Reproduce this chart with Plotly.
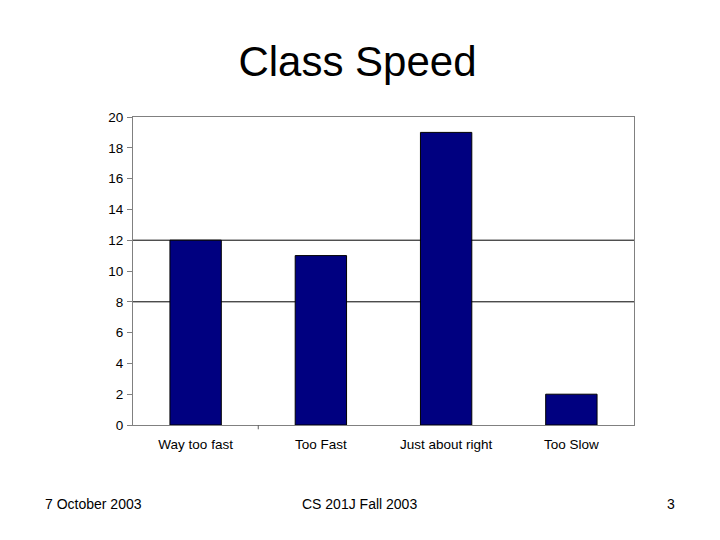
import plotly.graph_objects as go

# survey answers
categories = ["Way too fast", "Too Fast", "Just about right", "Too Slow"]
counts = [12, 11, 19, 2]
grid_levels = [8, 12]
y_ticks = [0, 2, 4, 6, 8, 10, 12, 14, 16, 18, 20]

fig = go.Figure()
fig.add_trace(go.Bar(x=categories, y=counts,
                     marker=dict(color="#000080", line=dict(color="#000000", width=1)),
                     width=0.41))

# only two horizontal grid lines in the original
for g in grid_levels:
    fig.add_shape(type="line", xref="paper", yref="y", x0=0, x1=1, y0=g, y1=g,
                  line=dict(color="black", width=1), layer="below")

# lone x tick between first and second category
fig.add_shape(type="line", xref="x", yref="paper", x0=0.5, x1=0.5, y0=0, y1=-0.014,
              line=dict(color="#606060", width=1))

fig.update_layout(
    width=720, height=540,
    margin=dict(l=125, r=94, t=109, b=123),
    paper_bgcolor="white", plot_bgcolor="white",
    showlegend=False,
    font=dict(family="Liberation Sans, Arial, sans-serif", color="black"),
    title=dict(text="Class Speed", xref="paper", x=0.448, xanchor="center",
               y=0.901, yanchor="middle",
               font=dict(size=42, family="Liberation Sans, Arial, sans-serif")),
    xaxis=dict(showgrid=False, showline=True, linecolor="#808080", mirror=True,
               ticks="", tickfont=dict(size=13.5), ticklabelstandoff=7,
               fixedrange=True),
    yaxis=dict(range=[0, 20], tickvals=y_ticks, showgrid=False, zeroline=False,
               showline=True, linecolor="#808080", mirror=True,
               ticks="outside", ticklen=5, tickcolor="#808080",
               ticklabelstandoff=1, tickfont=dict(size=13.5)),
)

# slide footer
fig.add_annotation(text="7 October 2003", xref="paper", yref="paper", x=-0.18, y=-0.2565,
                   xanchor="left", yanchor="middle", showarrow=False, font=dict(size=14))
fig.add_annotation(text="CS 201J Fall 2003", xref="paper", yref="paper", x=0.453, y=-0.2565,
                   xanchor="center", yanchor="middle", showarrow=False, font=dict(size=14))
fig.add_annotation(text="3", xref="paper", yref="paper", x=1.086, y=-0.2565,
                   xanchor="right", yanchor="middle", showarrow=False, font=dict(size=14))

fig.write_html("out.html")
